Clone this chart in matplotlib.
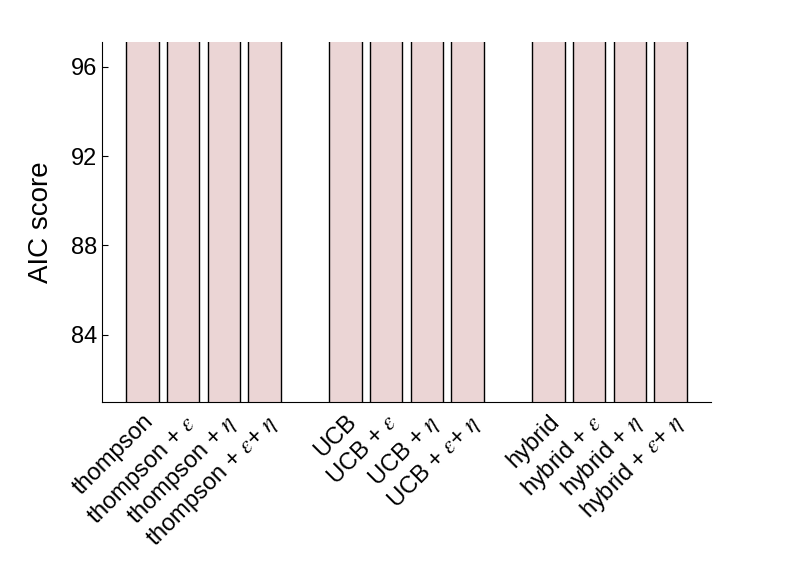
import matplotlib.pyplot as plt

plt.rcParams['font.family'] = ['Liberation Sans', 'DejaVu Sans']
plt.rcParams['mathtext.fontset'] = 'stix'

labels = ['thompson', r'thompson + $\epsilon$', r'thompson + $\eta$', r'thompson + $\epsilon$+ $\eta$',
          'UCB', r'UCB + $\epsilon$', r'UCB + $\eta$', r'UCB + $\epsilon$+ $\eta$',
          'hybrid', r'hybrid + $\epsilon$', r'hybrid + $\eta$', r'hybrid + $\epsilon$+ $\eta$']
# bars extend beyond the visible y range in the reference
scores = [105, 104, 104, 103, 106, 105, 105, 104, 105, 104, 104, 103]
positions = [0, 1, 2, 3, 5, 6, 7, 8, 10, 11, 12, 13]

fig = plt.figure(figsize=(7.86, 5.84), dpi=100)
ax = fig.add_axes([102/786, 1-402/584, 609/786, 360/584])
ax.bar(positions, scores, width=0.8, color='#ebd5d5', edgecolor='black', linewidth=1)
ax.set_xlim(-1, 14)
ax.set_ylim(81, 97.1)
ax.set_yticks([84, 88, 92, 96])
ax.set_xticks(positions)
ax.set_xticklabels(labels, rotation=45, ha='right', rotation_mode='anchor')
ax.tick_params(axis='x', labelsize=17, length=0, pad=6)
ax.tick_params(axis='y', labelsize=17, length=4, direction='in')
ax.set_ylabel('AIC score', fontsize=20, labelpad=12)
ax.spines['top'].set_visible(False)
ax.spines['right'].set_visible(False)
fig.savefig('out.png', dpi=100)
